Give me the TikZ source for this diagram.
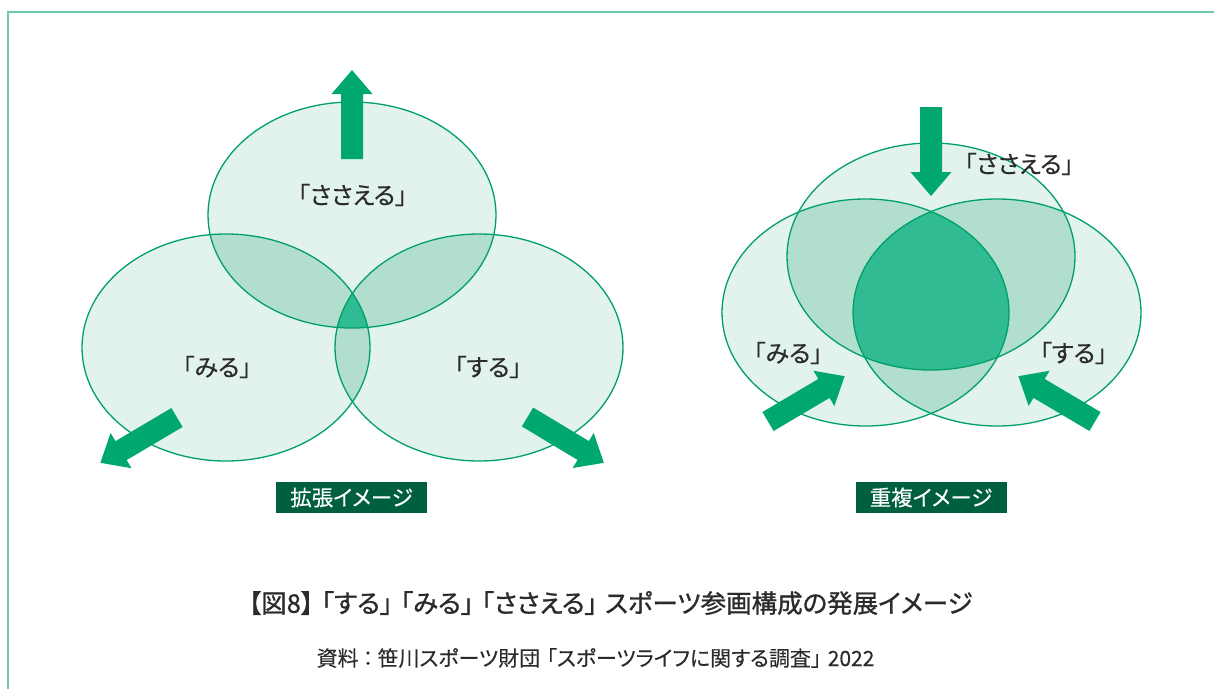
\documentclass[tikz,border=0pt]{standalone}
\usepackage{fontspec}
\newfontfamily\jp{Noto Sans CJK JP}[RawFeature=+palt, FakeBold=0.25]
\newfontfamily\jpm{Noto Sans CJK JP}[RawFeature=+palt, FakeBold=1.1]
\definecolor{frameC}{HTML}{6CCBA5}
\definecolor{lineC}{HTML}{00A06B}
\definecolor{fillA}{HTML}{E2F2EC}
\definecolor{fillB}{HTML}{B2DECD}
\definecolor{fillC}{HTML}{30BB92}
\definecolor{arrowC}{HTML}{00A86D}
\definecolor{boxC}{HTML}{005F3F}
\definecolor{txtC}{HTML}{2B2B2B}
\tikzset{
  venn/.style={draw=lineC, line width=1.3pt},
  lbl/.style={text=txtC, font=\jp\fontsize{24}{24}\selectfont, inner sep=0pt},
  tagbox/.style={fill=boxC, text=white, minimum width=151pt, minimum height=31pt, inner sep=0pt, font=\jp\fontsize{21.5}{21.5}\selectfont},
  bigarrow/.style={fill=arrowC}
}
\newcommand\blockarrow[2]{\fill[bigarrow,shift={(#1)},rotate=#2] (0,-11) -- (65,-11) -- (65,-20.5) -- (89,0) -- (65,20.5) -- (65,11) -- (0,11) -- cycle;}
\newcommand\gp{\hspace{0.3em}}
% left diagram ellipses
\def\LT{(352,215) ellipse [x radius=144pt, y radius=113pt]}
\def\LL{(226,347.5) ellipse [x radius=144pt, y radius=113.5pt]}
\def\LR{(479,347.5) ellipse [x radius=144pt, y radius=113.5pt]}
% right diagram ellipses
\def\RT{(931,256.5) ellipse [x radius=144pt, y radius=113.5pt]}
\def\RL{(865.5,312.5) ellipse [x radius=143.5pt, y radius=113.5pt]}
\def\RR{(997,312.5) ellipse [x radius=144pt, y radius=113.5pt]}
\begin{document}
\begin{tikzpicture}[x=1pt,y=-1pt]
\useasboundingbox (0,0) rectangle (1214,688);
\clip (0,0) rectangle (1214,688);
\draw[frameC, line width=2.6pt] (8,12) rectangle (1240,720);

% ---- left diagram ----
\fill[fillA] \LT; \fill[fillA] \LL; \fill[fillA] \LR;
\begin{scope}\clip \LT; \fill[fillB] \LL; \fill[fillB] \LR; \end{scope}
\begin{scope}\clip \LL; \fill[fillB] \LR; \end{scope}
\begin{scope}\clip \LT; \clip \LL; \fill[fillC] \LR; \end{scope}
\draw[venn] \LT; \draw[venn] \LL; \draw[venn] \LR;

% ---- right diagram ----
\fill[fillA] \RT; \fill[fillA] \RL; \fill[fillA] \RR;
\begin{scope}\clip \RT; \fill[fillB] \RL; \fill[fillB] \RR; \end{scope}
\begin{scope}\clip \RL; \fill[fillB] \RR; \end{scope}
\begin{scope}\clip \RT; \clip \RL; \fill[fillC] \RR; \end{scope}
\draw[venn] \RT; \draw[venn] \RL; \draw[venn] \RR;

% ---- arrows ----
\coordinate (aUp) at (352,159);
\coordinate (aLL) at (177,417.5);
\coordinate (aLR) at (527.5,417);
\coordinate (aDn) at (931,107);
\coordinate (aRL) at (768,421.5);
\coordinate (aRR) at (1095,421.5);
\blockarrow{aUp}{90}
\blockarrow{aLL}{210.6}
\blockarrow{aLR}{-31}
\blockarrow{aDn}{-90}
\blockarrow{aRL}{30.6}
\blockarrow{aRR}{149.4}

% ---- labels ----
\node[lbl] (lS) at (352.5,195) {「ささえる」};
\node[lbl] (lM) at (217,367) {「みる」};
\node[lbl] (lD) at (488,367) {「する」};
\node[lbl] (rS) at (1019,164) {「ささえる」};
\node[lbl] (rM) at (788,353) {「みる」};
\node[lbl] (rD) at (1073.5,353) {「する」};

\node[tagbox] (t1) at (351.5,497.5) {拡張イメージ};
\node[tagbox] (t2) at (931,497.5) {重複イメージ};

\node[text=txtC, font=\jpm\fontsize{25.5}{25.5}\selectfont, inner sep=0pt] (cap) at (610.5,603) {【図8】\gp「する」\gp「みる」\gp「ささえる」\gp スポーツ参画構成の発展イメージ};
\node[text=txtC, font=\jp\fontsize{21}{21}\selectfont, inner sep=0pt] (src) at (595.5,658) {資料\hspace{0.2em}：\hspace{0.2em}笹川スポーツ財団\gp「スポーツライフに関する調査」\gp 2022};
\end{tikzpicture}
\end{document}
